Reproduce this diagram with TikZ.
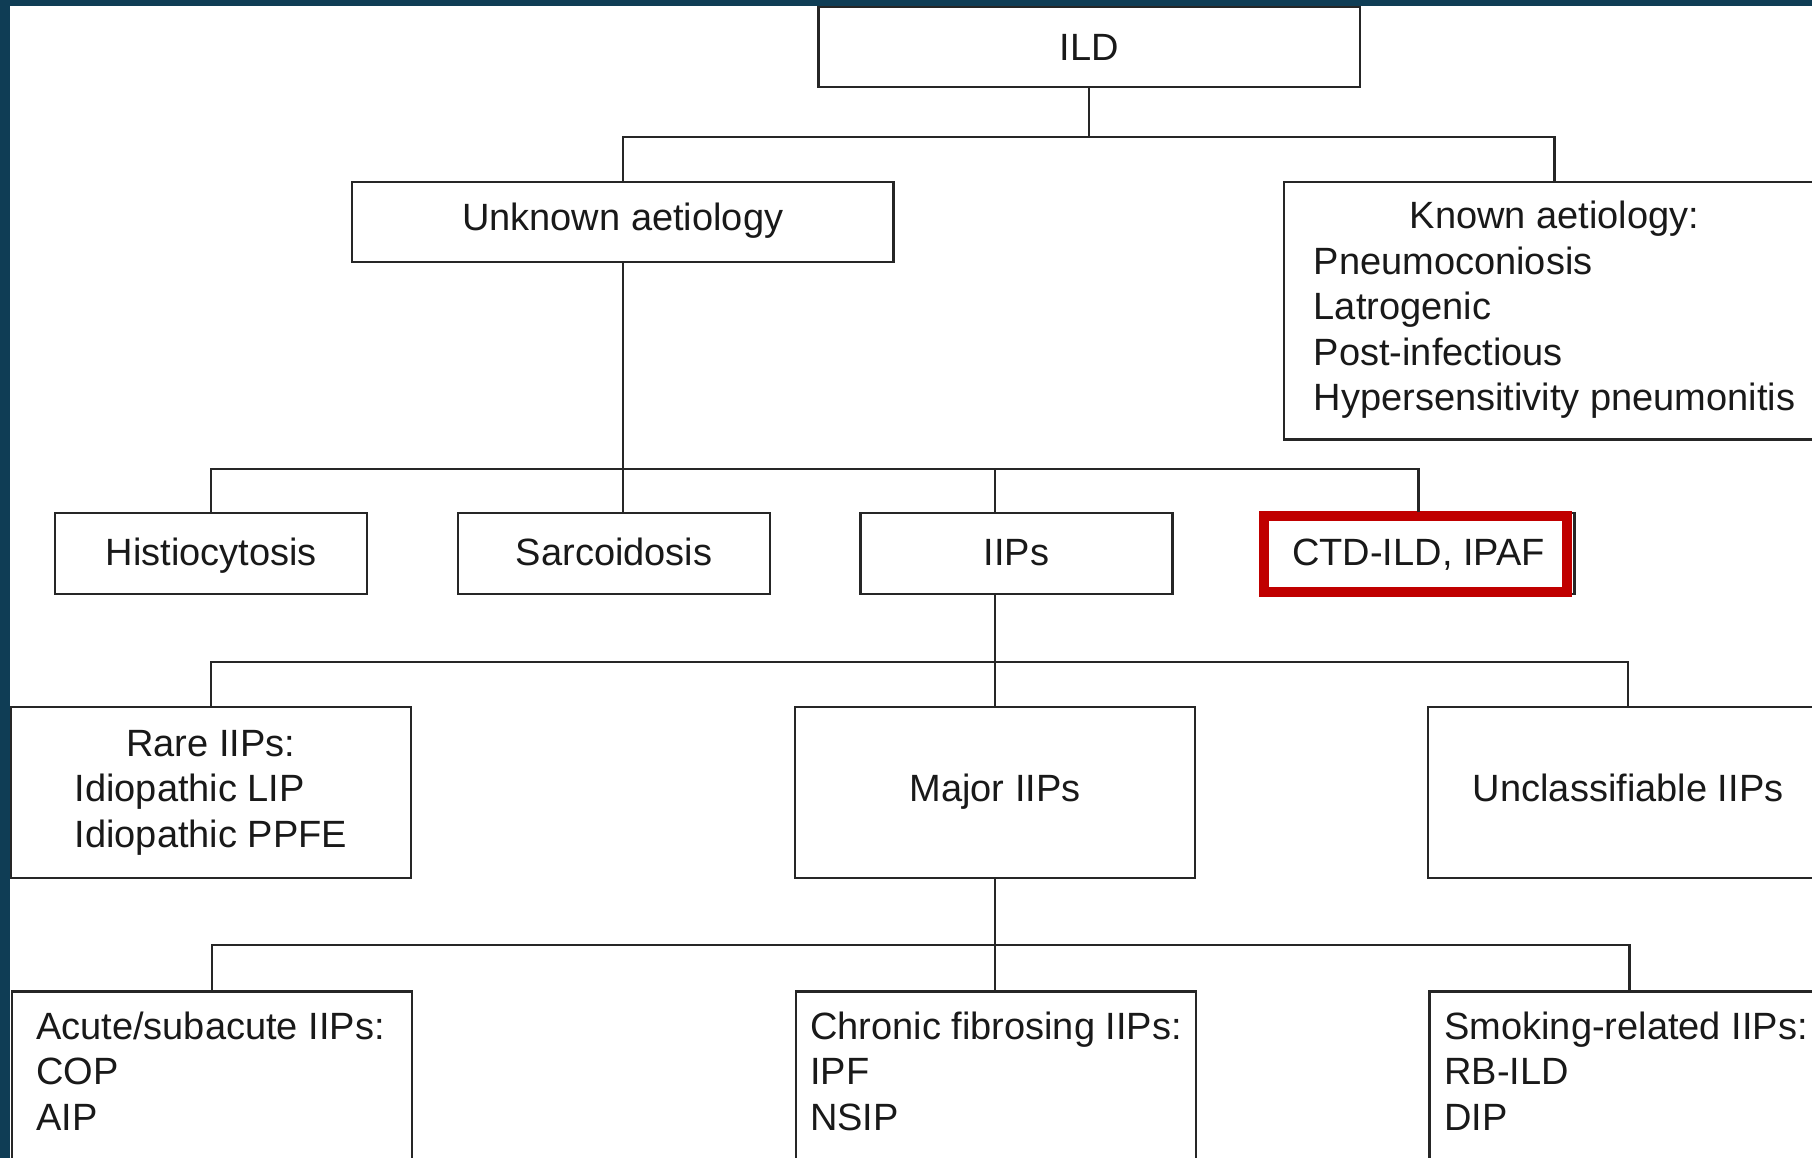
\documentclass[tikz,border=0pt]{standalone}
\usepackage{fontspec}
\setmainfont{Liberation Sans}
\definecolor{frameblue}{RGB}{15,61,85}
\definecolor{hired}{RGB}{192,0,0}
\tikzset{
  bx/.style={draw=black!85, line width=2.2pt, inner sep=0pt, text=black!90},
  oneline/.style={bx, text height=27pt, text depth=3pt},
  lowline/.style={text height=27pt, text depth=9pt},
  wideb/.style={oneline, minimum width=541.5pt, minimum height=80pt},
  smallb/.style={oneline, minimum width=312pt, minimum height=80.7pt},
  midb/.style={bx, minimum width=400pt, minimum height=171.6pt},
  cutb/.style={bx, anchor=north west, inner ysep=15.8pt},
  hilite/.style={draw=hired, line width=10pt},
  wire/.style={draw=black!85, line width=2.2pt}
}
\begin{document}
\begin{tikzpicture}[x=1pt,y=-1pt,font=\fontsize{38}{45.5}\selectfont]
\useasboundingbox (0,0) rectangle (1812,1158);
\clip (0,0) rectangle (1812,1158);
\fill[white] (0,0) rectangle (1812,1158);
% bus levels
\coordinate (busA) at (0,136.7);
\coordinate (busB) at (0,468.7);
\coordinate (busC) at (0,662);
\coordinate (busD) at (0,945.3);
% boxes
\node[wideb, text depth=0pt] (ild) at (1089.3,47.2) {ILD};
\node[wideb, lowline] (unknown) at (622.7,221.7) {Unknown aetiology};
\node[bx, minimum width=541.5pt, minimum height=257.8pt] (known) at (1554.5,310.6)
  {\raisebox{-1.8pt}{\begin{tabular}{@{}l@{}}\multicolumn{1}{c}{Known aetiology:}\\Pneumoconiosis\\Latrogenic\\Post-infectious\\Hypersensitivity pneumonitis\end{tabular}}};
\node[smallb] (hist) at (211.2,553.7) {Histiocytosis};
\node[smallb] (sarc) at (614.2,553.7) {Sarcoidosis};
\node[smallb] (iips) at (1016.5,553.7) {IIPs};
\node[smallb] (ctd) at (1418.5,553.7) {CTD-ILD, IPAF};
\node[midb] (rare) at (210.9,792.5)
  {\begin{tabular}{@{}l@{}}\multicolumn{1}{c}{Rare IIPs:}\\Idiopathic LIP\\Idiopathic PPFE\end{tabular}};
\node[midb, lowline] (major) at (995,792.5) {Major IIPs};
\node[midb, lowline] (uncl) at (1628.2,792.5) {Unclassifiable IIPs};
\node[cutb, inner xsep=24pt] (acute) at (11,990.4)
  {\parbox[c][200pt][t]{352pt}{\strut Acute/subacute IIPs:\\COP\\AIP}};
\node[cutb, inner xsep=14pt] (chronic) at (795,990.4)
  {\parbox[c][200pt][t]{372pt}{\strut Chronic fibrosing IIPs:\\IPF\\NSIP}};
\node[cutb, inner xsep=15pt] (smoke) at (1428.3,990.4)
  {\parbox[c][200pt][t]{370pt}{\strut Smoking-related IIPs:\\RB-ILD\\DIP}};
% highlight
\draw[hilite] ([shift={(2.3,3.4)}]ctd.north west) rectangle ([shift={(-8.8,-3.3)}]ctd.south east);
% connectors
\draw[wire] (ild.south) -- (ild.south |- busA);
\draw[wire] (unknown.north) |- (known.north |- busA) -- (known.north);
\draw[wire] (unknown.south) -- (unknown.south |- sarc.north);
\draw[wire] (hist.north) |- (ctd.north |- busB) -- (ctd.north);
\draw[wire] (major.north |- busB) -- (major.north |- iips.north);
\draw[wire] (major.north |- iips.south) -- (major.north);
\draw[wire] (rare.north) |- (uncl.north |- busC) -- (uncl.north);
\draw[wire] (major.south) -- (major.south |- acute.north);
\draw[wire] (acute.north) |- (smoke.north |- busD) -- (smoke.north);
% frame
\fill[frameblue] (0,0) rectangle (10,1158);
\fill[frameblue] (0,0) rectangle (1812,6);
\end{tikzpicture}
\end{document}
